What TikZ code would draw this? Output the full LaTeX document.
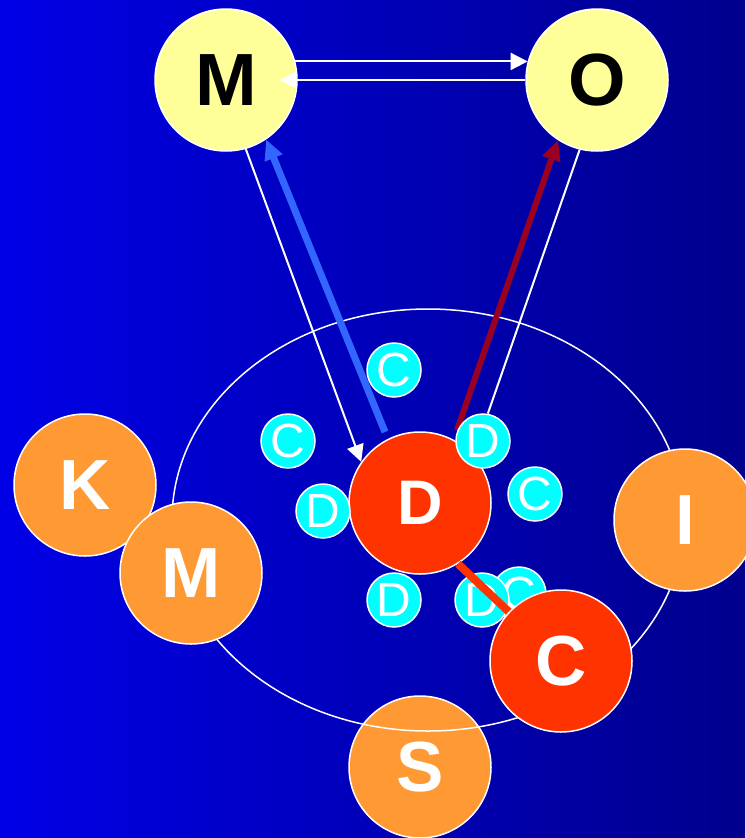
\documentclass[tikz,border=0pt]{standalone}
\usepackage{fontspec}
\setmainfont{Liberation Sans}
\usetikzlibrary{arrows.meta,positioning,shapes.geometric}
\definecolor{bgleft}{HTML}{0000E6}
\definecolor{bgright}{HTML}{00008C}
\definecolor{pale}{HTML}{FFFF99}
\definecolor{amber}{HTML}{FF9933}
\definecolor{vermilion}{HTML}{FF3300}
\definecolor{aqua}{HTML}{00FFFF}
\definecolor{sky}{HTML}{3366FF}
\definecolor{wine}{HTML}{990022}
\tikzset{
  bigdot/.style={
    circle,
    draw=white,
    line width=1.5pt,
    minimum size=142pt,
    inner sep=0pt,
    font=\fontsize{71}{71}\selectfont\bfseries,
    text=white
  },
  topic/.style={
    bigdot,
    fill=pale,
    text=black,
    font=\fontsize{74}{74}\selectfont\bfseries
  },
  outer/.style={
    bigdot,
    fill=amber
  },
  hub/.style={
    bigdot,
    fill=vermilion
  },
  small/.style={
    circle,
    draw=white,
    line width=1.5pt,
    fill=aqua,
    minimum size=54pt,
    inner sep=0pt,
    font=\fontsize{48}{48}\selectfont,
    text=white
  },
  link/.style={
    draw=white,
    line width=2pt,
    -{Triangle[length=17pt,width=17pt]}
  },
  plain/.style={
    draw=white,
    line width=2pt
  },
  fat/.style={
    line width=7pt,
    -{Triangle[length=20pt,width=18pt]}
  }
}
\begin{document}
\begin{tikzpicture}[x=1pt,y=-1pt]
  \shade[left color=bgleft, right color=bgright] (0,0) rectangle (745,838);
  \useasboundingbox (0,0) rectangle (745,838);

  \node[outer] (sout) at (420,767) {S};

  \node[ellipse, draw=white, line width=1.5pt, minimum width=512pt, minimum height=422pt, inner sep=0pt] (cell) at (428,520) {};

  \node[topic] (mtop) at (226,80) {M};
  \node[topic] (otop) at (597,80) {O};

  \node[outer] (kout) at (85,485) {K};
  \node[outer] (mout) at (191,573) {M};
  \node[outer] (iout) at (685,520) {I};

  \node[hub, font=\fontsize{63}{63}\selectfont\bfseries] (dhub) at (420,503) {D};

  \draw[link] (mtop.15) -- (otop.165);
  \draw[link] (otop.west) -- ([xshift=-18pt]mtop.east);
  \draw[link] (mtop.-74) -- (dhub.145);

  \coordinate (skystart) at (385,432);
  \coordinate (winestart) at (457,430);
  \draw[fat, sky] (skystart) -- (mtop.-56);
  \draw[fat, wine, line width=6pt] (winestart) -- (otop.-123);

  \node[small] (c1) at (394,370) {C};
  \node[small] (c2) at (288,441) {C};
  \node[small] (c3) at (535,494) {C};
  \node[small] (c4) at (519,594) {C};
  \node[small] (d1) at (483,441) {D};
  \node[small] (d2) at (323,511) {D};
  \node[small] (d3) at (394,600) {D};
  \node[small] (d4) at (482,600) {D};

  \draw[plain] (otop.-104) -- (d1.80);

  \draw[vermilion, line width=8pt] (dhub.-58) -- (561,661);
  \node[hub] (chub) at (561,661) {C};
\end{tikzpicture}
\end{document}
